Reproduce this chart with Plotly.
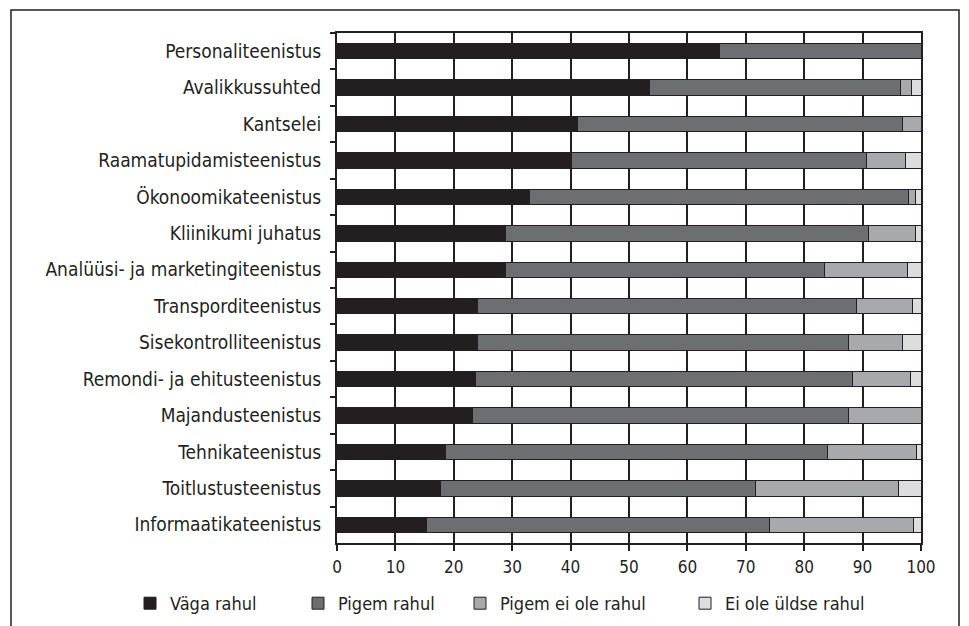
import plotly.graph_objects as go

categories = [
    "Personaliteenistus", "Avalikkussuhted", "Kantselei", "Raamatupidamisteenistus",
    "Ökonoomikateenistus", "Kliinikumi juhatus", "Analüüsi- ja marketingiteenistus",
    "Transporditeenistus", "Sisekontrolliteenistus", "Remondi- ja ehitusteenistus",
    "Majandusteenistus", "Tehnikateenistus", "Toitlustusteenistus", "Informaatikateenistus",
]
vaga_rahul = [65.5, 53.5, 41.1, 40.1, 33.0, 28.8, 28.8, 24.0, 24.0, 23.7, 23.2, 18.6, 17.8, 15.3]
pigem_rahul = [34.5, 43.0, 55.8, 50.6, 64.8, 62.2, 54.6, 64.9, 63.5, 64.6, 64.3, 65.4, 53.9, 58.8]
pigem_ei_ole = [0.0, 1.9, 3.1, 6.7, 1.2, 8.0, 14.3, 9.6, 9.4, 9.9, 12.5, 15.2, 24.4, 24.7]
ei_ole_uldse = [0.0, 1.6, 0.0, 2.6, 1.0, 1.0, 2.3, 1.5, 3.1, 1.8, 0.0, 0.8, 3.9, 1.2]

series_names = ["Väga rahul", "Pigem rahul", "Pigem ei ole rahul", "Ei ole üldse rahul"]
series_values = [vaga_rahul, pigem_rahul, pigem_ei_ole, ei_ole_uldse]
colors = ["#231f20", "#6d6e71", "#a7a9ac", "#dcddde"]
x_ticks = list(range(0, 101, 10))

FONT = "DejaVu Sans Condensed, Liberation Sans Narrow, Arial Narrow, sans-serif"
DARK = "#231f20"

# page body has an 8px margin, so the figure is sized to 961x618
W, H = 961, 618
L, R, T, B = 329, 48, 25, 83
PW, PH = W - L - R, H - T - B

legend_ids = ["legend", "legend2", "legend3", "legend4"]
legend_screen_x = [130, 298, 460, 685]

fig = go.Figure()
for name, vals, col, lid in zip(series_names, series_values, colors, legend_ids):
    fig.add_trace(go.Bar(
        y=categories, x=vals, name=name, orientation="h", legend=lid,
        marker=dict(color=col, line=dict(color=DARK, width=1)),
    ))

legend_y = -(585 - 8 - (T + PH)) / PH
legends = {}
for lid, sx in zip(legend_ids, legend_screen_x):
    legends[lid] = dict(
        orientation="h", x=(sx - 8 - L) / PW, xanchor="left",
        y=legend_y, yanchor="top",
        font=dict(size=18, family=FONT, color=DARK),
        itemwidth=30, bgcolor="rgba(0,0,0,0)",
    )

fig.update_layout(
    barmode="stack",
    bargap=0.58,
    width=W, height=H,
    margin=dict(l=L, r=R, t=T, b=B, autoexpand=False),
    paper_bgcolor="white", plot_bgcolor="white",
    font=dict(family=FONT, color=DARK, size=17),
    showlegend=True,
    shapes=[dict(
        type="rect", xref="paper", yref="paper",
        x0=(11 - 8 - L) / PW, x1=(959 - 8 - L) / PW,
        y0=-0.25, y1=(T + PH - 2) / PH,
        line=dict(color=DARK, width=1.5), fillcolor="rgba(0,0,0,0)", layer="below",
    )],
    **legends,
)

fig.update_xaxes(
    range=[0, 100], tickvals=x_ticks, ticktext=[str(v) for v in x_ticks],
    showgrid=True, gridcolor=DARK, gridwidth=1.5,
    showline=True, linecolor=DARK, linewidth=2, mirror=True,
    ticks="outside", ticklen=6, tickcolor=DARK, tickwidth=1.5,
    tickfont=dict(size=17, family=FONT, color=DARK),
    ticklabelstandoff=2, automargin=False,
    zeroline=False, fixedrange=True,
)
fig.update_yaxes(
    categoryorder="array", categoryarray=categories, autorange="reversed",
    showline=True, linecolor=DARK, linewidth=2, mirror=True,
    ticks="outside", tickson="boundaries", ticklen=5, tickcolor=DARK, tickwidth=1.5,
    tickfont=dict(size=19, family=FONT, color=DARK),
    ticklabelstandoff=10, automargin=False,
    showgrid=False, fixedrange=True,
)

fig.write_html("out.html")
